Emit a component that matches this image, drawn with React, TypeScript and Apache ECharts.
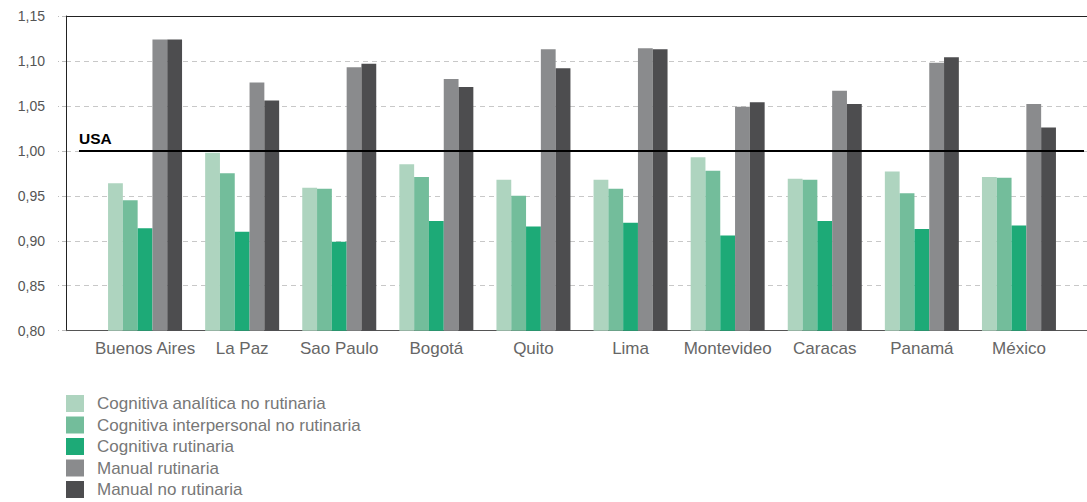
import React, { useEffect, useRef } from "react";
import * as echarts from "echarts";

const categories = ["Buenos Aires", "La Paz", "Sao Paulo", "Bogotá", "Quito", "Lima", "Montevideo", "Caracas", "Panamá", "México"];
const seriesNames = [
  "Cognitiva analítica no rutinaria",
  "Cognitiva interpersonal no rutinaria",
  "Cognitiva rutinaria",
  "Manual rutinaria",
  "Manual no rutinaria",
];
const analitica = [0.964, 0.998, 0.959, 0.985, 0.968, 0.968, 0.993, 0.969, 0.977, 0.971];
const interpersonal = [0.945, 0.975, 0.958, 0.971, 0.950, 0.958, 0.978, 0.968, 0.953, 0.970];
const cognitivaRutinaria = [0.914, 0.910, 0.899, 0.922, 0.916, 0.920, 0.906, 0.922, 0.913, 0.917];
const manualRutinaria = [1.124, 1.076, 1.093, 1.080, 1.113, 1.114, 1.049, 1.067, 1.098, 1.052];
const manualNoRutinaria = [1.124, 1.056, 1.097, 1.071, 1.092, 1.113, 1.054, 1.052, 1.104, 1.026];
const usaLevel = 1.0;
const yMin = 0.8;
const yMax = 1.15;
const yStep = 0.05;

const colors = ["#aed4bf", "#73bd9b", "#1daa77", "#8a8b8d", "#4d4d4f"];

export default function App() {
  const ref = useRef<HTMLDivElement>(null);
  useEffect(() => {
    if (!ref.current) return;
    const chart = echarts.init(ref.current, null, { renderer: "svg" });
    const valuesList = [analitica, interpersonal, cognitivaRutinaria, manualRutinaria, manualNoRutinaria];
    const font = "'Liberation Sans', Arial, Helvetica, sans-serif";
    const top = 16;
    const bottom = 171.3;
    chart.setOption({
      animation: false,
      textStyle: { fontFamily: font },
      color: colors,
      grid: [
        { left: 66, right: -2, top, bottom },
        { left: 96.5, right: 19.5, top, bottom },
        { left: 79, right: 3, top, bottom },
      ],
      xAxis: [
        {
          gridIndex: 0,
          type: "value",
          min: 0,
          max: 1,
          axisLine: { show: true, onZero: false, lineStyle: { color: "#555", width: 1 } },
          axisTick: { show: false },
          axisLabel: { show: false },
          splitLine: { show: false },
        },
        {
          gridIndex: 0,
          type: "value",
          position: "top",
          min: 0,
          max: 1,
          axisLine: { show: true, onZero: false, lineStyle: { color: "#222", width: 1 } },
          axisTick: { show: false },
          axisLabel: { show: false },
          splitLine: { show: false },
        },
        {
          gridIndex: 1,
          type: "category",
          data: categories,
          axisLine: { show: false },
          axisTick: { show: false },
          axisLabel: { color: "#666", fontSize: 17, margin: 9, interval: 0 },
        },
        {
          gridIndex: 2,
          type: "value",
          min: 0,
          max: 1,
          show: false,
        },
      ],
      yAxis: [
        {
          gridIndex: 0,
          type: "value",
          min: yMin,
          max: yMax,
          interval: yStep,
          axisLine: { show: true, lineStyle: { color: "#222", width: 1 } },
          axisTick: { show: true, length: 8, lineStyle: { color: "#bbb", type: [4, 3] } },
          axisLabel: {
            color: "#555",
            fontSize: 14,
            margin: 21,
            formatter: (v: number) => v.toFixed(2).replace(".", ","),
          },
          splitLine: { show: true, lineStyle: { color: "#c8c8c8", type: [5, 4], width: 1 } },
        },
        { gridIndex: 1, type: "value", min: yMin, max: yMax, interval: yStep, show: false },
        { gridIndex: 2, type: "value", min: yMin, max: yMax, interval: yStep, show: false },
      ],
      legend: {
        orient: "vertical",
        left: 66,
        top: 395,
        height: 300,
        padding: 0,
        icon: "rect",
        itemWidth: 18,
        itemHeight: 17,
        itemGap: 4.5,
        data: seriesNames,
        textStyle: { color: "#777", fontSize: 17, padding: [0, 0, 0, 8] },
      },
      series: [
        ...seriesNames.map((name, i) => ({
          name,
          type: "bar",
          xAxisIndex: 2,
          yAxisIndex: 1,
          data: valuesList[i],
          barWidth: 14.8,
          barGap: "0%",
          itemStyle: { color: colors[i] },
        })),
        {
          name: "USA",
          type: "line",
          xAxisIndex: 3,
          yAxisIndex: 2,
          data: [],
          markLine: {
            silent: true,
            symbol: "none",
            lineStyle: { color: "#000", width: 2, type: "solid" },
            label: {
              show: true,
              position: "insideStartTop",
              formatter: "USA",
              color: "#000",
              fontWeight: "bold",
              fontSize: 15.5,
              distance: [0, 4],
            },
            data: [{ yAxis: usaLevel }],
          },
        },
      ],
    });
    return () => chart.dispose();
  }, []);
  return <div ref={ref} style={{ position: "absolute", left: 0, top: 0, width: 1087, height: 502 }} />;
}
